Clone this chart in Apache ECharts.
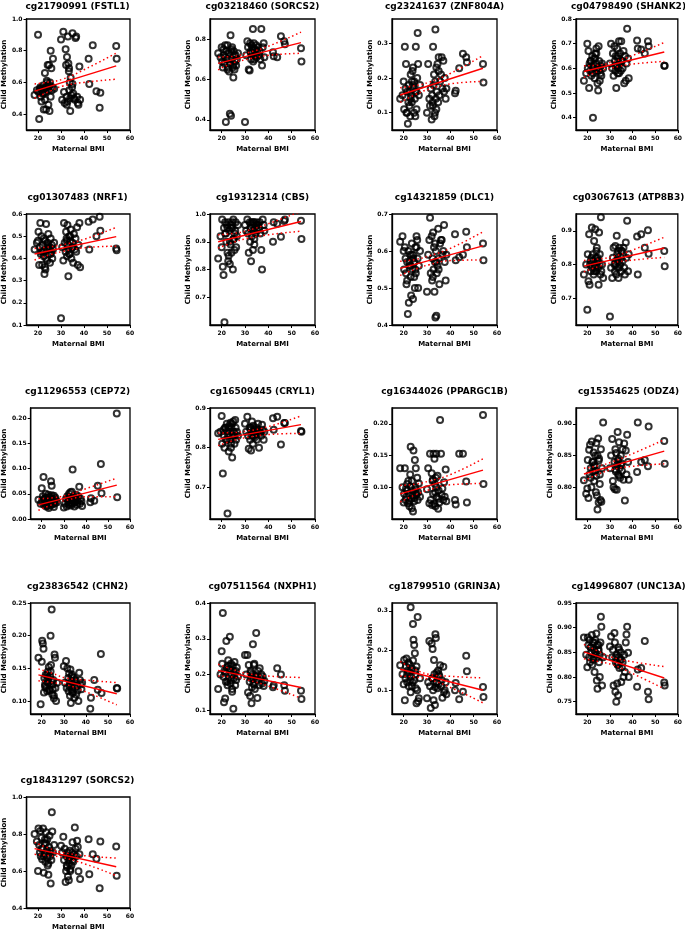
<!DOCTYPE html>
<html><head><meta charset="utf-8">
<script src="https://cdn.jsdelivr.net/npm/echarts@6/dist/echarts.min.js"></script>
<style>html,body{margin:0;padding:0;background:#fff}#c{width:685px;height:933px}</style>
</head><body><div id="c"></div>
<script>
// ---------- DATA ----------
const titles = [
  "cg21790991 (FSTL1)", "cg03218460 (SORCS2)", "cg23241637 (ZNF804A)", "cg04798490 (SHANK2)",
  "cg01307483 (NRF1)", "cg19312314 (CBS)", "cg14321859 (DLC1)", "cg03067613 (ATP8B3)",
  "cg11296553 (CEP72)", "cg16509445 (CRYL1)", "cg16344026 (PPARGC1B)", "cg15354625 (ODZ4)",
  "cg23836542 (CHN2)", "cg07511564 (NXPH1)", "cg18799510 (GRIN3A)", "cg14996807 (UNC13A)",
  "cg18431297 (SORCS2)"
];
const xAxisTitle = "Maternal BMI";
const yAxisTitle = "Child Methylation";

// maternal BMI of the subjects (shared by all panels)
const bmiLow  = [18.5,19.5,20,20.2,20.5,20.8,21,21.2,21.5,21.8,22,22.2,22.5,22.8,23,23.2,23.5,23.8,24,24.2,24.5,24.8,25,25.2,25.5,25.8,26,26.2,26.5,27,21.5,22.5,23.5,24.5,25.5,23,24,25];
const bmiMid  = [30,30.5,31,31.3,31.6,32,32.2,32.4,32.6,32.8,33,33.2,33.4,33.6,33.8,34,34.2,34.5,34.8,35,35.3,35.6,36,36.3,36.6,37,37.3,37.6,38,38.3,32.5,33.5,34,35];
const bmiHigh = [42,42.3,43.8,45.4,46.8,47.1,54,54.2];

// child methylation per CpG (same subject order as BMI)
const FSTL1 = [0.52,0.55,0.90,0.54,0.37,0.56,0.57,0.51,0.48,0.55,0.53,0.58,0.43,0.56,0.66,0.54,0.43,0.61,0.58,0.71,0.46,0.71,0.42,0.60,0.80,0.69,0.55,0.57,0.75,0.56,0.56,0.53,0.57,0.55,0.51,0.49,0.60,0.58,
  0.87,0.49,0.92,0.54,0.47,0.81,0.71,0.51,0.76,0.48,0.89,0.72,0.67,0.55,0.60,0.42,0.63,0.52,0.57,0.91,0.53,0.50,0.49,0.88,0.89,0.51,0.47,0.46,0.70,0.49,0.46,0.69,0.50,0.59,
  0.75,0.59,0.835,0.545,0.44,0.535,0.83,0.75];
const SORCS2_a = [0.73,0.71,0.76,0.69,0.66,0.75,0.72,0.68,0.77,0.39,0.74,0.70,0.77,0.66,0.73,0.64,0.43,0.82,0.42,0.75,0.70,0.66,0.61,0.74,0.65,0.69,0.72,0.67,0.70,0.73,0.71,0.65,0.68,0.76,0.72,0.70,0.74,0.67,
  0.39,0.72,0.79,0.76,0.65,0.645,0.78,0.74,0.70,0.77,0.73,0.76,0.85,0.72,0.78,0.70,0.75,0.73,0.77,0.71,0.74,0.76,0.72,0.74,0.70,0.85,0.67,0.76,0.78,0.71,0.73,0.69,0.75,0.72,
  0.735,0.715,0.71,0.815,0.79,0.775,0.755,0.69];
const ZNF804A = [0.14,0.15,0.19,0.11,0.29,0.17,0.24,0.10,0.16,0.068,0.13,0.18,0.12,0.09,0.21,0.15,0.19,0.22,0.23,0.17,0.10,0.14,0.09,0.29,0.16,0.20,0.33,0.24,0.15,0.18,0.10,0.16,0.13,0.19,0.11,0.14,0.18,0.16,
  0.10,0.24,0.14,0.12,0.17,0.08,0.15,0.13,0.29,0.18,0.21,0.09,0.10,0.34,0.14,0.23,0.16,0.24,0.13,0.26,0.15,0.19,0.21,0.26,0.17,0.25,0.16,0.20,0.14,0.17,0.12,0.19,0.11,0.22,
  0.156,0.163,0.228,0.27,0.26,0.245,0.24,0.187];
const SHANK2 = [0.55,0.58,0.70,0.60,0.67,0.52,0.62,0.59,0.63,0.57,0.61,0.65,0.40,0.60,0.64,0.56,0.66,0.62,0.68,0.59,0.54,0.51,0.69,0.63,0.60,0.58,0.61,0.57,0.62,0.60,0.63,0.58,0.64,0.60,0.55,0.61,0.66,0.59,
  0.62,0.70,0.60,0.66,0.57,0.69,0.63,0.59,0.65,0.52,0.61,0.68,0.58,0.64,0.60,0.71,0.62,0.66,0.59,0.71,0.63,0.60,0.67,0.54,0.65,0.55,0.62,0.76,0.64,0.56,0.61,0.65,0.58,0.63,
  0.713,0.68,0.676,0.66,0.71,0.69,0.61,0.61];
const NRF1 = [0.44,0.47,0.48,0.52,0.37,0.45,0.56,0.42,0.50,0.37,0.46,0.43,0.41,0.33,0.48,0.35,0.555,0.44,0.39,0.47,0.51,0.42,0.45,0.38,0.49,0.43,0.46,0.40,0.44,0.47,0.43,0.49,0.40,0.45,0.42,0.36,0.46,0.44,
  0.13,0.45,0.39,0.56,0.47,0.43,0.52,0.49,0.41,0.55,0.46,0.32,0.44,0.50,0.42,0.48,0.53,0.40,0.45,0.47,0.38,0.51,0.44,0.49,0.43,0.54,0.37,0.46,0.56,0.36,0.48,0.42,0.50,0.45,
  0.565,0.44,0.575,0.50,0.588,0.525,0.445,0.437];
const CBS = [0.84,0.92,0.88,0.98,0.81,0.78,0.95,0.61,0.97,0.93,0.90,0.96,0.86,0.83,0.97,0.94,0.82,0.89,0.96,0.86,0.95,0.80,0.98,0.91,0.87,0.94,0.97,0.88,0.92,0.96,0.93,0.95,0.90,0.97,0.93,0.85,0.95,0.91,
  0.96,0.94,0.98,0.93,0.86,0.97,0.90,0.95,0.83,0.97,0.92,0.96,0.87,0.94,0.97,0.89,0.95,0.93,0.97,0.96,0.94,0.96,0.95,0.97,0.93,0.87,0.80,0.98,0.96,0.94,0.95,0.97,0.91,0.96,
  0.90,0.97,0.965,0.918,0.975,0.98,0.976,0.91];
const DLC1 = [0.625,0.64,0.60,0.55,0.61,0.58,0.54,0.51,0.57,0.43,0.60,0.46,0.56,0.59,0.53,0.48,0.62,0.55,0.47,0.59,0.57,0.50,0.61,0.54,0.64,0.63,0.58,0.50,0.56,0.60,0.52,0.57,0.59,0.53,0.61,0.56,0.58,0.55,
  0.49,0.59,0.63,0.69,0.54,0.64,0.52,0.58,0.65,0.55,0.61,0.49,0.57,0.42,0.60,0.425,0.54,0.56,0.66,0.58,0.51,0.62,0.63,0.63,0.59,0.60,0.67,0.57,0.52,0.59,0.53,0.62,0.57,0.55,
  0.645,0.575,0.583,0.59,0.652,0.61,0.62,0.575];
const ATP8B3 = [0.77,0.80,0.665,0.83,0.75,0.89,0.74,0.80,0.78,0.82,0.91,0.79,0.81,0.77,0.87,0.80,0.905,0.82,0.78,0.85,0.81,0.79,0.74,0.895,0.83,0.77,0.94,0.78,0.80,0.76,0.81,0.83,0.79,0.82,0.80,0.78,0.84,0.81,
  0.645,0.79,0.76,0.82,0.85,0.80,0.78,0.855,0.81,0.77,0.885,0.83,0.79,0.84,0.76,0.81,0.85,0.80,0.82,0.78,0.84,0.81,0.85,0.79,0.77,0.865,0.82,0.93,0.78,0.83,0.80,0.82,0.79,0.84,
  0.883,0.77,0.89,0.85,0.902,0.832,0.84,0.795];
const CEP72 = [0.038,0.03,0.061,0.035,0.045,0.083,0.028,0.04,0.032,0.05,0.025,0.042,0.036,0.03,0.048,0.022,0.038,0.044,0.027,0.075,0.066,0.034,0.04,0.029,0.046,0.035,0.031,0.042,0.037,0.033,0.041,0.026,0.039,0.047,0.024,0.043,0.036,0.031,
  0.023,0.03,0.04,0.025,0.045,0.035,0.028,0.05,0.032,0.042,0.053,0.027,0.038,0.054,0.03,0.098,0.036,0.044,0.025,0.04,0.033,0.048,0.028,0.037,0.045,0.064,0.03,0.04,0.035,0.026,0.043,0.031,0.039,0.034,
  0.033,0.041,0.036,0.066,0.109,0.051,0.209,0.043];
const CRYL1 = [0.836,0.84,0.88,0.81,0.735,0.845,0.83,0.80,0.85,0.82,0.84,0.86,0.634,0.83,0.79,0.855,0.82,0.863,0.80,0.85,0.775,0.83,0.866,0.84,0.81,0.87,0.85,0.82,0.84,0.83,0.85,0.82,0.84,0.86,0.83,0.85,0.81,0.84,
  0.86,0.84,0.878,0.83,0.797,0.85,0.82,0.845,0.793,0.83,0.866,0.84,0.81,0.855,0.83,0.846,0.826,0.84,0.85,0.82,0.835,0.86,0.80,0.84,0.838,0.83,0.858,0.845,0.82,0.84,0.85,0.83,0.84,0.845,
  0.874,0.845,0.878,0.808,0.862,0.862,0.842,0.84];
const PPARGC1B = [0.13,0.10,0.076,0.09,0.13,0.08,0.098,0.085,0.105,0.075,0.11,0.09,0.07,0.12,0.164,0.082,0.067,0.095,0.062,0.158,0.078,0.143,0.10,0.13,0.088,0.115,0.08,0.092,0.106,0.085,0.095,0.078,0.11,0.083,0.09,0.101,0.087,0.096,
  0.097,0.13,0.075,0.153,0.08,0.122,0.072,0.11,0.09,0.153,0.074,0.145,0.105,0.07,0.115,0.153,0.085,0.118,0.066,0.095,0.076,0.206,0.153,0.088,0.098,0.08,0.108,0.085,0.128,0.078,0.112,0.092,0.1,0.082,
  0.08,0.073,0.153,0.153,0.109,0.076,0.214,0.105];
const ODZ4 = [0.811,0.79,0.798,0.843,0.783,0.859,0.82,0.867,0.83,0.80,0.872,0.84,0.825,0.855,0.81,0.835,0.85,0.792,0.87,0.787,0.765,0.877,0.776,0.845,0.82,0.78,0.86,0.777,0.83,0.902,0.815,0.84,0.826,0.85,0.805,0.833,0.818,0.842,
  0.83,0.85,0.876,0.81,0.80,0.84,0.797,0.86,0.825,0.854,0.796,0.835,0.887,0.82,0.845,0.871,0.83,0.815,0.85,0.838,0.826,0.86,0.812,0.869,0.779,0.858,0.82,0.883,0.84,0.812,0.828,0.842,0.818,0.835,
  0.824,0.902,0.84,0.843,0.833,0.896,0.873,0.837];
const CHN2 = [0.166,0.095,0.16,0.192,0.188,0.18,0.113,0.135,0.125,0.14,0.12,0.13,0.115,0.145,0.128,0.152,0.118,0.138,0.20,0.155,0.24,0.11,0.125,0.132,0.104,0.171,0.166,0.12,0.10,0.128,0.122,0.14,0.116,0.13,0.108,0.135,0.145,0.118,
  0.153,0.128,0.161,0.12,0.15,0.135,0.115,0.142,0.125,0.108,0.148,0.097,0.13,0.118,0.14,0.112,0.126,0.136,0.105,0.12,0.132,0.11,0.123,0.116,0.10,0.143,0.132,0.125,0.118,0.128,0.122,0.138,0.114,0.13,
  0.088,0.105,0.132,0.117,0.172,0.112,0.12,0.119];
const NXPH1 = [0.16,0.20,0.265,0.23,0.372,0.194,0.123,0.21,0.133,0.18,0.294,0.22,0.17,0.24,0.19,0.215,0.306,0.175,0.23,0.20,0.152,0.225,0.105,0.19,0.235,0.17,0.21,0.185,0.22,0.195,0.205,0.18,0.215,0.16,0.2,0.225,0.185,0.21,
  0.255,0.20,0.255,0.15,0.227,0.18,0.14,0.21,0.19,0.12,0.165,0.2,0.285,0.175,0.227,0.23,0.16,0.195,0.316,0.185,0.135,0.21,0.17,0.218,0.19,0.2,0.175,0.195,0.168,0.182,0.205,0.188,0.172,0.198,
  0.165,0.17,0.218,0.20,0.17,0.155,0.155,0.132];
const GRIN3A = [0.163,0.14,0.115,0.176,0.075,0.13,0.16,0.18,0.12,0.15,0.17,0.11,0.145,0.125,0.309,0.135,0.155,0.12,0.267,0.227,0.214,0.193,0.15,0.105,0.067,0.10,0.285,0.072,0.08,0.13,0.14,0.165,0.11,0.125,0.16,0.095,0.175,0.14,
  0.08,0.12,0.224,0.11,0.055,0.218,0.13,0.204,0.1,0.075,0.176,0.14,0.063,0.241,0.232,0.12,0.145,0.105,0.15,0.115,0.135,0.163,0.11,0.125,0.081,0.159,0.095,0.1,0.12,0.09,0.13,0.108,0.118,0.14,
  0.10,0.118,0.077,0.096,0.187,0.148,0.108,0.083];
const UNC13A = [0.88,0.845,0.82,0.88,0.865,0.84,0.875,0.83,0.86,0.85,0.885,0.825,0.87,0.84,0.855,0.81,0.875,0.845,0.888,0.793,0.776,0.854,0.865,0.83,0.80,0.87,0.922,0.902,0.783,0.84,0.86,0.835,0.85,0.865,0.845,0.87,0.838,0.855,
  0.862,0.882,0.84,0.855,0.783,0.889,0.87,0.77,0.83,0.75,0.845,0.787,0.825,0.763,0.86,0.84,0.818,0.835,0.85,0.79,0.82,0.83,0.80,0.845,0.81,0.87,0.886,0.902,0.849,0.80,0.84,0.825,0.855,0.835,
  0.78,0.815,0.818,0.873,0.77,0.755,0.789,0.783];
const SORCS2_b = [0.80,0.76,0.60,0.83,0.74,0.70,0.816,0.68,0.78,0.664,0.72,0.83,0.59,0.75,0.69,0.65,0.81,0.71,0.77,0.63,0.58,0.73,0.79,0.68,0.532,0.66,0.918,0.813,0.70,0.74,0.72,0.68,0.75,0.64,0.70,0.77,0.67,0.71,
  0.737,0.70,0.785,0.66,0.72,0.54,0.60,0.68,0.62,0.70,0.57,0.66,0.55,0.64,0.71,0.60,0.68,0.63,0.70,0.755,0.65,0.69,0.835,0.72,0.68,0.764,0.73,0.598,0.69,0.557,0.63,0.67,0.61,0.66,
  0.772,0.582,0.69,0.666,0.507,0.76,0.732,0.575];

const methylation = [FSTL1, SORCS2_a, ZNF804A, SHANK2, NRF1, CBS, DLC1, ATP8B3, CEP72, CRYL1, PPARGC1B, ODZ4, CHN2, NXPH1, GRIN3A, UNC13A, SORCS2_b];

// axes
const xMin = 15, xMax = 60;
const xTicks = [20, 30, 40, 50, 60];
const yMin = [0.3, 0.35, 0.05, 0.35, 0.1, 0.6, 0.4, 0.62, 0, 0.62, 0.05, 0.75, 0.08, 0.09, 0.04, 0.725, 0.4];
const yMax = [1.0, 0.9, 0.37, 0.8, 0.6, 1.0, 0.7, 0.95, 0.22, 0.9, 0.225, 0.925, 0.25, 0.4, 0.32, 0.95, 1.0];
const yTicks = [
  [0.4,0.6,0.8,1.0],[0.4,0.6,0.8],[0.1,0.2,0.3],[0.4,0.5,0.6,0.7,0.8],
  [0.1,0.2,0.3,0.4,0.5,0.6],[0.7,0.8,0.9,1.0],[0.4,0.5,0.6,0.7],[0.7,0.8,0.9],
  [0,0.05,0.1,0.15,0.2],[0.7,0.8,0.9],[0.1,0.15,0.2],[0.8,0.85,0.9],
  [0.1,0.15,0.2,0.25],[0.1,0.2,0.3,0.4],[0.1,0.2,0.3],[0.75,0.8,0.85,0.9,0.95],
  [0.4,0.6,0.8,1.0]
];
const yDecimals = [1,1,1,1,1,1,1,1,2,1,2,2,2,1,1,2,1];

// linear fit: y at BMI 18.5 and 54
const fitX = [18.5, 54];
const fitY = [
  [0.545,0.704],[0.68,0.783],[0.151,0.228],[0.587,0.666],
  [0.42,0.498],[0.90,0.973],[0.553,0.614],[0.795,0.849],
  [0.028,0.067],[0.821,0.858],[0.0895,0.127],[0.821,0.857],
  [0.14,0.111],[0.212,0.164],[0.153,0.10],[0.851,0.798],
  [0.721,0.623]
];
// 95% confidence bands
const bandX = [18.5, 25, 31, 40, 54];
const bandUpper = [
  [0.59,0.603,0.622,0.68,0.785],[0.712,0.715,0.732,0.765,0.835],[0.172,0.178,0.188,0.213,0.265],[0.61,0.613,0.626,0.652,0.705],
  [0.445,0.452,0.462,0.486,0.54],[0.925,0.93,0.94,0.965,1.01],[0.572,0.577,0.587,0.607,0.652],[0.812,0.816,0.823,0.843,0.881],
  [0.04,0.042,0.047,0.06,0.081],[0.837,0.838,0.842,0.853,0.88],[0.103,0.105,0.11,0.12,0.145],[0.83,0.834,0.84,0.853,0.875],
  [0.149,0.142,0.135,0.132,0.128],[0.229,0.214,0.203,0.196,0.192],[0.173,0.152,0.14,0.135,0.131],[0.866,0.852,0.84,0.831,0.821],
  [0.755,0.722,0.70,0.683,0.67]
];
const bandLower = [
  [0.50,0.543,0.578,0.60,0.62],[0.648,0.683,0.70,0.72,0.73],[0.130,0.152,0.168,0.183,0.19],[0.563,0.588,0.602,0.617,0.628],
  [0.393,0.416,0.432,0.448,0.455],[0.877,0.898,0.912,0.925,0.938],[0.534,0.551,0.563,0.574,0.576],[0.778,0.794,0.805,0.813,0.821],
  [0.017,0.029,0.037,0.044,0.044],[0.805,0.818,0.826,0.833,0.836],[0.077,0.088,0.096,0.104,0.106],[0.81,0.821,0.828,0.833,0.837],
  [0.131,0.128,0.125,0.114,0.094],[0.196,0.193,0.185,0.168,0.134],[0.136,0.133,0.127,0.107,0.068],[0.837,0.831,0.825,0.807,0.776],
  [0.69,0.683,0.672,0.64,0.575]
];

// ---------- LAYOUT ----------
const layout = { colLeft: [25, 210, 392, 576], rowTop: [19, 214, 408, 603, 797], w: 105, h: 111 };
const FONT = '"DejaVu Sans", sans-serif';

const bmi = bmiLow.concat(bmiMid, bmiHigh);
const zip = (xs, ys) => ys.slice(0, xs.length).map((y, i) => [xs[i], y]);

const grid = [], xAxis = [], yAxis = [], series = [], title = [];
titles.forEach((t, i) => {
  const col = i % 4, row = Math.floor(i / 4);
  const left = layout.colLeft[col], top = layout.rowTop[row];
  grid.push({ left: left, top: top, width: layout.w, height: layout.h, show: true,
    borderColor: '#000', borderWidth: 1.3, backgroundColor: 'transparent' });
  title.push({ text: t, left: left + layout.w / 2, top: Math.max(2, top - 21), textAlign: 'center', padding: 0,
    textStyle: { fontSize: 9, fontWeight: 'bold', fontFamily: FONT, color: '#000' } });
  xAxis.push({ gridIndex: i, type: 'value', min: xMin, max: xMax,
    axisLine: { show: true, onZero: false, lineStyle: { color: '#000', width: 1.3 } },
    axisTick: { show: true, length: 3, customValues: xTicks, lineStyle: { color: '#000', width: 1 } },
    axisLabel: { customValues: xTicks, fontSize: 6, fontWeight: 'bold', fontFamily: FONT, color: '#000000', margin: 5,
      showMaxLabel: true, formatter: v => String(v) },
    splitLine: { show: false },
    name: xAxisTitle, nameLocation: 'middle', nameGap: 16,
    nameTextStyle: { fontSize: 7, fontWeight: 'bold', fontFamily: FONT, color: '#000' } });
  const dec = yDecimals[i];
  yAxis.push({ gridIndex: i, type: 'value', min: yMin[i], max: yMax[i],
    axisLine: { show: true, onZero: false, lineStyle: { color: '#000', width: 1.3 } },
    axisTick: { show: true, length: 3, customValues: yTicks[i], lineStyle: { color: '#000', width: 1 } },
    axisLabel: { customValues: yTicks[i], fontSize: 6, fontWeight: 'bold', fontFamily: FONT, color: '#000', margin: 4,
      formatter: v => Number(v).toFixed(dec) },
    splitLine: { show: false },
    name: yAxisTitle, nameLocation: 'middle', nameGap: 18,
    nameTextStyle: { fontSize: 7, fontWeight: 'bold', fontFamily: FONT, color: '#000' } });
  series.push({ type: 'scatter', xAxisIndex: i, yAxisIndex: i, data: zip(bmi, methylation[i]),
    symbol: 'circle', symbolSize: 6, silent: true, z: 2,
    itemStyle: { color: 'rgba(0,0,0,0)', borderColor: '#000', borderWidth: 2 } });
  series.push({ type: 'line', xAxisIndex: i, yAxisIndex: i, data: zip(fitX, fitY[i]),
    symbol: 'none', silent: true, z: 4, lineStyle: { color: '#ff0000', width: 1.4 } });
  series.push({ type: 'line', xAxisIndex: i, yAxisIndex: i, data: zip(bandX, bandUpper[i]), smooth: 0.5,
    symbol: 'none', silent: true, z: 3, lineStyle: { color: '#ff0000', width: 1.5, type: [1.5, 2.8] } });
  series.push({ type: 'line', xAxisIndex: i, yAxisIndex: i, data: zip(bandX, bandLower[i]), smooth: 0.5,
    symbol: 'none', silent: true, z: 3, lineStyle: { color: '#ff0000', width: 1.5, type: [1.5, 2.8] } });
});

const chart = echarts.init(document.getElementById('c'), null, { renderer: 'canvas' });
chart.setOption({ animation: false, backgroundColor: '#fff', title, grid, xAxis, yAxis, series });
</script></body></html>
